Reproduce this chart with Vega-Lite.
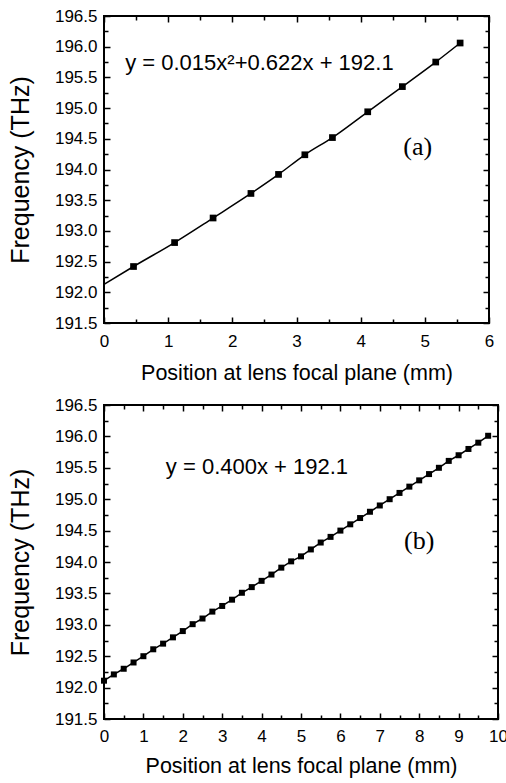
{
  "$schema": "https://vega.github.io/schema/vega-lite/v6.json",
  "padding": {"left": 7, "top": 6, "right": 0, "bottom": 0},
  "bounds": "flush",
  "spacing": 82,
  "datasets": {
    "a": [
      {"x": 0, "y": 192.13, "kind": "start"},
      {"x": 0.46, "y": 192.42, "kind": "p"},
      {"x": 1.1, "y": 192.81, "kind": "p"},
      {"x": 1.7, "y": 193.21, "kind": "p"},
      {"x": 2.29, "y": 193.61, "kind": "p"},
      {"x": 2.72, "y": 193.92, "kind": "p"},
      {"x": 3.13, "y": 194.24, "kind": "p"},
      {"x": 3.56, "y": 194.52, "kind": "p"},
      {"x": 4.11, "y": 194.94, "kind": "p"},
      {"x": 4.65, "y": 195.35, "kind": "p"},
      {"x": 5.17, "y": 195.75, "kind": "p"},
      {"x": 5.55, "y": 196.06, "kind": "p"}
    ],
    "b": [
      {"x": 0, "y": 192.11, "kind": "p"},
      {"x": 0.25, "y": 192.21, "kind": "p"},
      {"x": 0.5, "y": 192.3, "kind": "p"},
      {"x": 0.75, "y": 192.4, "kind": "p"},
      {"x": 1.0, "y": 192.5, "kind": "p"},
      {"x": 1.25, "y": 192.61, "kind": "p"},
      {"x": 1.5, "y": 192.7, "kind": "p"},
      {"x": 1.75, "y": 192.8, "kind": "p"},
      {"x": 2.0, "y": 192.9, "kind": "p"},
      {"x": 2.25, "y": 193.01, "kind": "p"},
      {"x": 2.5, "y": 193.1, "kind": "p"},
      {"x": 2.75, "y": 193.21, "kind": "p"},
      {"x": 3.0, "y": 193.3, "kind": "p"},
      {"x": 3.25, "y": 193.4, "kind": "p"},
      {"x": 3.5, "y": 193.51, "kind": "p"},
      {"x": 3.75, "y": 193.6, "kind": "p"},
      {"x": 4.0, "y": 193.7, "kind": "p"},
      {"x": 4.25, "y": 193.8, "kind": "p"},
      {"x": 4.5, "y": 193.91, "kind": "p"},
      {"x": 4.75, "y": 194.01, "kind": "p"},
      {"x": 5.0, "y": 194.09, "kind": "p"},
      {"x": 5.25, "y": 194.2, "kind": "p"},
      {"x": 5.5, "y": 194.31, "kind": "p"},
      {"x": 5.75, "y": 194.4, "kind": "p"},
      {"x": 6.0, "y": 194.5, "kind": "p"},
      {"x": 6.25, "y": 194.6, "kind": "p"},
      {"x": 6.5, "y": 194.7, "kind": "p"},
      {"x": 6.75, "y": 194.8, "kind": "p"},
      {"x": 7.0, "y": 194.9, "kind": "p"},
      {"x": 7.25, "y": 195.0, "kind": "p"},
      {"x": 7.5, "y": 195.1, "kind": "p"},
      {"x": 7.75, "y": 195.2, "kind": "p"},
      {"x": 8.0, "y": 195.3, "kind": "p"},
      {"x": 8.25, "y": 195.4, "kind": "p"},
      {"x": 8.5, "y": 195.5, "kind": "p"},
      {"x": 8.75, "y": 195.61, "kind": "p"},
      {"x": 9.0, "y": 195.7, "kind": "p"},
      {"x": 9.25, "y": 195.8, "kind": "p"},
      {"x": 9.5, "y": 195.9, "kind": "p"},
      {"x": 9.75, "y": 196.01, "kind": "p"}
    ],
    "annA": [
      {"x": 0.33, "y": 195.74, "label": "y = 0.015x²+0.622x + 192.1", "style": "sans"},
      {"x": 4.89, "y": 194.37, "label": "(a)", "style": "serif"}
    ],
    "annB": [
      {"x": 1.57, "y": 195.51, "label": "y = 0.400x + 192.1", "style": "sans"},
      {"x": 8.0, "y": 194.33, "label": "(b)", "style": "serif"}
    ]
  },
  "vconcat": [
    {
      "width": 385,
      "height": 307,
      "data": {"name": "a"},
      "layer": [
        {
          "mark": {"type": "line", "color": "black", "strokeWidth": 1.5, "interpolate": "monotone"},
          "encoding": {
            "x": {"field": "x", "type": "quantitative", "scale": {"domain": [0, 6], "nice": false},
              "axis": {"orient": "bottom", "title": "Position at lens focal plane (mm)",
                "values": [0, 0.5, 1, 1.5, 2, 2.5, 3, 3.5, 4, 4.5, 5, 5.5, 6],
                "labelExpr": "datum.value % 1 === 0 ? format(datum.value, 'd') : ''",
                "tickSize": {"condition": {"test": "datum.value % 1 === 0", "value": -6}, "value": -4},
                "labelPadding": 16, "titlePadding": 11}},
            "y": {"field": "y", "type": "quantitative", "scale": {"domain": [191.5, 196.5], "nice": false, "zero": false},
              "axis": {"orient": "left", "title": "Frequency (THz)",
                "values": [191.5, 191.75, 192, 192.25, 192.5, 192.75, 193, 193.25, 193.5, 193.75, 194, 194.25, 194.5, 194.75, 195, 195.25, 195.5, 195.75, 196, 196.25, 196.5],
                "labelExpr": "(datum.value * 2) % 1 === 0 ? format(datum.value, '.1f') : ''",
                "tickSize": {"condition": {"test": "(datum.value * 2) % 1 === 0", "value": -6}, "value": -4},
                "labelPadding": 13, "titlePadding": 21}}
          }
        },
        {
          "transform": [{"filter": "datum.kind === 'p'"}],
          "mark": {"type": "square", "color": "black", "size": 45, "opacity": 1},
          "encoding": {
            "x": {"field": "x", "type": "quantitative",
              "axis": {"orient": "top", "title": null, "labels": false,
                "values": [0, 0.5, 1, 1.5, 2, 2.5, 3, 3.5, 4, 4.5, 5, 5.5, 6],
                "tickSize": {"condition": {"test": "datum.value % 1 === 0", "value": -6}, "value": -4}}},
            "y": {"field": "y", "type": "quantitative",
              "axis": {"orient": "right", "title": null, "labels": false,
                "values": [191.5, 191.75, 192, 192.25, 192.5, 192.75, 193, 193.25, 193.5, 193.75, 194, 194.25, 194.5, 194.75, 195, 195.25, 195.5, 195.75, 196, 196.25, 196.5],
                "tickSize": {"condition": {"test": "(datum.value * 2) % 1 === 0", "value": -6}, "value": -4}}}
          }
        },
        {
          "data": {"name": "annA"},
          "transform": [{"filter": "datum.style === 'sans'"}],
          "mark": {"type": "text", "align": "left", "baseline": "middle", "font": "Liberation Sans", "fontSize": 22, "color": "black"},
          "encoding": {
            "x": {"field": "x", "type": "quantitative", "axis": null},
            "y": {"field": "y", "type": "quantitative", "axis": null},
            "text": {"field": "label"}
          }
        },
        {
          "data": {"name": "annA"},
          "transform": [{"filter": "datum.style === 'serif'"}],
          "mark": {"type": "text", "align": "center", "baseline": "middle", "font": "Liberation Serif", "fontSize": 26, "color": "black"},
          "encoding": {
            "x": {"field": "x", "type": "quantitative", "axis": null},
            "y": {"field": "y", "type": "quantitative", "axis": null},
            "text": {"field": "label"}
          }
        }
      ],
      "resolve": {"axis": {"x": "independent", "y": "independent"}}
    },
    {
      "width": 394,
      "height": 314,
      "data": {"name": "b"},
      "layer": [
        {
          "mark": {"type": "line", "color": "black", "strokeWidth": 1.5},
          "encoding": {
            "x": {"field": "x", "type": "quantitative", "scale": {"domain": [0, 10], "nice": false},
              "axis": {"orient": "bottom", "title": "Position at lens focal plane (mm)",
                "values": [0, 0.5, 1, 1.5, 2, 2.5, 3, 3.5, 4, 4.5, 5, 5.5, 6, 6.5, 7, 7.5, 8, 8.5, 9, 9.5, 10],
                "labelExpr": "datum.value % 1 === 0 ? format(datum.value, 'd') : ''",
                "tickSize": {"condition": {"test": "datum.value % 1 === 0", "value": -6}, "value": -4},
                "labelPadding": 15, "titlePadding": 9}},
            "y": {"field": "y", "type": "quantitative", "scale": {"domain": [191.5, 196.5], "nice": false, "zero": false},
              "axis": {"orient": "left", "title": "Frequency (THz)",
                "values": [191.5, 191.75, 192, 192.25, 192.5, 192.75, 193, 193.25, 193.5, 193.75, 194, 194.25, 194.5, 194.75, 195, 195.25, 195.5, 195.75, 196, 196.25, 196.5],
                "labelExpr": "(datum.value * 2) % 1 === 0 ? format(datum.value, '.1f') : ''",
                "tickSize": {"condition": {"test": "(datum.value * 2) % 1 === 0", "value": -6}, "value": -4},
                "labelPadding": 13, "titlePadding": 21}}
          }
        },
        {
          "transform": [{"filter": "datum.kind === 'p'"}],
          "mark": {"type": "square", "color": "black", "size": 36, "opacity": 1},
          "encoding": {
            "x": {"field": "x", "type": "quantitative",
              "axis": {"orient": "top", "title": null, "labels": false,
                "values": [0, 0.5, 1, 1.5, 2, 2.5, 3, 3.5, 4, 4.5, 5, 5.5, 6, 6.5, 7, 7.5, 8, 8.5, 9, 9.5, 10],
                "tickSize": {"condition": {"test": "datum.value % 1 === 0", "value": -6}, "value": -4}}},
            "y": {"field": "y", "type": "quantitative",
              "axis": {"orient": "right", "title": null, "labels": false,
                "values": [191.5, 191.75, 192, 192.25, 192.5, 192.75, 193, 193.25, 193.5, 193.75, 194, 194.25, 194.5, 194.75, 195, 195.25, 195.5, 195.75, 196, 196.25, 196.5],
                "tickSize": {"condition": {"test": "(datum.value * 2) % 1 === 0", "value": -6}, "value": -4}}}
          }
        },
        {
          "data": {"name": "annB"},
          "transform": [{"filter": "datum.style === 'sans'"}],
          "mark": {"type": "text", "align": "left", "baseline": "middle", "font": "Liberation Sans", "fontSize": 22, "color": "black"},
          "encoding": {
            "x": {"field": "x", "type": "quantitative", "axis": null},
            "y": {"field": "y", "type": "quantitative", "axis": null},
            "text": {"field": "label"}
          }
        },
        {
          "data": {"name": "annB"},
          "transform": [{"filter": "datum.style === 'serif'"}],
          "mark": {"type": "text", "align": "center", "baseline": "middle", "font": "Liberation Serif", "fontSize": 26, "color": "black"},
          "encoding": {
            "x": {"field": "x", "type": "quantitative", "axis": null},
            "y": {"field": "y", "type": "quantitative", "axis": null},
            "text": {"field": "label"}
          }
        }
      ],
      "resolve": {"axis": {"x": "independent", "y": "independent"}}
    }
  ],
  "config": {
    "background": "white",
    "view": {"stroke": "black", "strokeWidth": 2},
    "axis": {
      "domain": false,
      "grid": false,
      "ticks": true,
      "tickColor": "black",
      "tickWidth": 1.5,
      "labelColor": "black",
      "labelFont": "Liberation Sans",
      "labelFontSize": 17,
      "labelOverlap": false,
      "labelFlush": false,
      "titleFont": "Liberation Sans",
      "titleFontSize": 21.5,
      "titleFontWeight": "normal",
      "titleColor": "black"
    },
    "axisLeft": {"titleFontSize": 25}
  }
}
